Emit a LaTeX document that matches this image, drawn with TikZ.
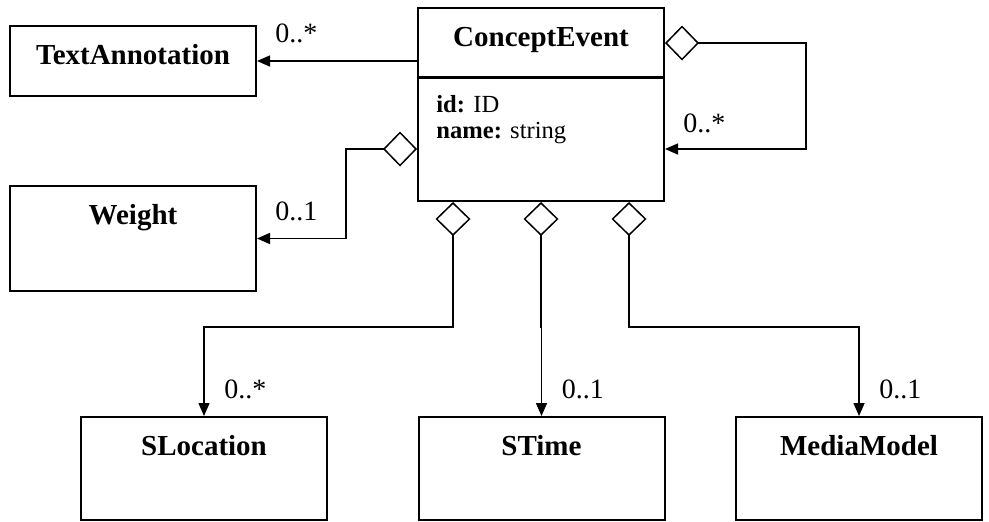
\documentclass[tikz,border=0pt]{standalone}
\usepackage{fontspec}
\setmainfont{Liberation Serif}
\usetikzlibrary{arrows.meta}

\tikzset{
  cls/.style={draw, line width=1pt, anchor=north west, inner xsep=0pt, inner ysep=0pt,
    minimum width=123pt, text height=19pt, font=\fontsize{14.5}{17}\selectfont\bfseries},
  assoc/.style={line width=.75pt, -{Triangle[length=6.5pt,width=5.5pt]}},
  aggr/.style={line width=.75pt, {Diamond[open,length=17pt,width=17.5pt]}-{Triangle[length=6.5pt,width=5.5pt]}},
  mult/.style={anchor=base west, inner sep=0pt, font=\fontsize{14}{17}\selectfont},
  attr/.style={anchor=base west, inner sep=0pt, font=\fontsize{12.3}{15}\selectfont},
}

\begin{document}
\begin{tikzpicture}[x=0.5pt, y=-0.5pt]
  \useasboundingbox (0,0) rectangle (989,521);

  \node[cls, text depth=77.5pt] (ce) at (417,7) {ConceptEvent};
  \draw[line width=1.5pt] ([yshift=-35pt]ce.north west) -- ([yshift=-35pt]ce.north east);
  \node[attr] (id) at (436,112) {\textbf{id:} ID};
  \node[attr] (name) at (436,138) {\textbf{name:} string};

  \node[cls, text depth=16pt] (ta) at (9,25) {TextAnnotation};
  \node[cls, text depth=33.5pt] (wt) at (9,185) {Weight};

  \foreach \cls/\xx/\txt in {sloc/80/SLocation, stime/417.5/STime, mm/735/MediaModel}
    \node[cls, text depth=32.5pt] (\cls) at (\xx,416) {\txt};

  \draw[assoc] (ce.west |- ta.east) -- (ta.east);
  \node[mult] (m1) at (275,42) {0..*};

  \coordinate (loop1) at (806,43);
  \coordinate (loop2) at (806,149);
  \draw[aggr] (ce.east |- loop1) -- (loop1) -- (loop2) -- (ce.east |- loop2);
  \node[mult] (m2) at (683,132) {0..*};

  \coordinate (wbend) at (346,149);
  \draw[aggr] (ce.west |- wbend) -- (wbend) |- (wt.east);
  \node[mult] (m3) at (275,220) {0..1};

  \foreach \cls/\xx/\m [count=\k] in {sloc/453/0..*, stime/541/0..1, mm/629/0..1} {
    \coordinate (bend\k) at (\xx,327);
    \draw[aggr] (ce.south -| bend\k) -- (bend\k) -| (\cls.north);
    \node[mult] (n\k) at ([shift={(10pt,9pt)}]\cls.north) {\m};
  }
\end{tikzpicture}
\end{document}
